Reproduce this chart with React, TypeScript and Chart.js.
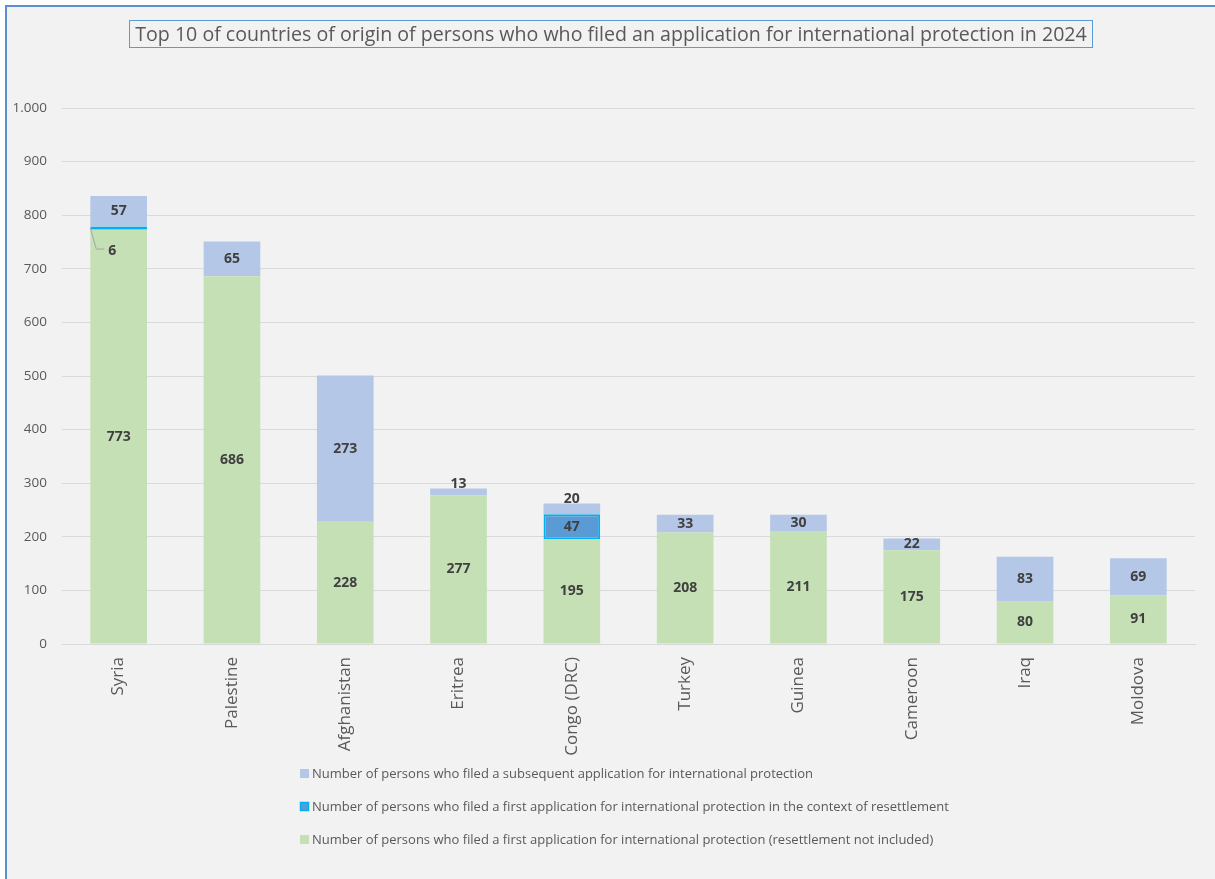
import React, { useEffect, useRef } from "react";
import { Chart, registerables } from "chart.js";

Chart.register(...registerables);

const categories = ["Syria", "Palestine", "Afghanistan", "Eritrea", "Congo (DRC)", "Turkey", "Guinea", "Cameroon", "Iraq", "Moldova"];
const firstApplication = [773, 686, 228, 277, 195, 208, 211, 175, 80, 91];
const resettlement = [6, 0, 0, 0, 47, 0, 0, 0, 0, 0];
const subsequent = [57, 65, 273, 13, 20, 33, 30, 22, 83, 69];

const seriesNames = [
  "Number of persons who filed a first application for international protection (resettlement not included)",
  "Number of persons who filed a first application for international protection in the context of resettlement",
  "Number of persons who filed a subsequent application for international protection",
];

const GREEN = "#c5e0b4";
const MID = "#5b9bd5";
const MID_BORDER = "#00b0f0";
const LIGHT = "#b4c7e7";
const TEXT = "#595959";
const LABEL = "#404040";
const FONT = "'Open Sans', 'Noto Sans', sans-serif";

const labelPlugin = {
  id: "segLabels",
  afterDatasetsDraw(chart: any) {
    const ctx = chart.ctx;
    ctx.save();
    ctx.font = `bold 14px ${FONT}`;
    ctx.fillStyle = LABEL;
    ctx.textAlign = "center";
    ctx.textBaseline = "middle";
    chart.data.datasets.forEach((ds: any, di: number) => {
      const meta = chart.getDatasetMeta(di);
      meta.data.forEach((el: any, i: number) => {
        const v = ds.data[i];
        if (v == null || v === 0) return;
        const top = Math.min(el.y, el.base);
        const h = Math.abs(el.base - el.y);
        const left = el.x - el.width / 2;
        if (h < 5) {
          const yc = top + h / 2;
          ctx.strokeStyle = "#a6a6a6";
          ctx.lineWidth = 1;
          ctx.beginPath();
          ctx.moveTo(left, yc);
          ctx.lineTo(left + 6, yc + 21);
          ctx.lineTo(left + 14, yc + 21);
          ctx.stroke();
          ctx.fillText(String(v), left + 22, yc + 23);
        } else if (h < 11) {
          ctx.fillText(String(v), el.x, top - 5);
        } else {
          ctx.fillText(String(v), el.x, top + h / 2);
        }
      });
    });
    ctx.restore();
  },
};

const legendPlugin = {
  id: "customLegend",
  afterDraw(chart: any) {
    const ctx = chart.ctx;
    ctx.save();
    ctx.font = `13px ${FONT}`;
    const target = 501;
    const measured = ctx.measureText(seriesNames[2]).width;
    const sx = target / measured;
    const items = [
      { text: seriesNames[2], fill: LIGHT, stroke: null as string | null },
      { text: seriesNames[1], fill: MID, stroke: MID_BORDER },
      { text: seriesNames[0], fill: GREEN, stroke: null as string | null },
    ];
    const ys = [774, 807, 840];
    items.forEach((it, k) => {
      const y = ys[k];
      ctx.fillStyle = it.fill;
      ctx.fillRect(300, y - 5, 9, 9);
      if (it.stroke) {
        ctx.strokeStyle = it.stroke;
        ctx.lineWidth = 1.5;
        ctx.strokeRect(300.5, y - 4.5, 8, 8);
      }
      ctx.save();
      ctx.translate(312, y);
      ctx.scale(sx, 1);
      ctx.fillStyle = TEXT;
      ctx.textAlign = "left";
      ctx.textBaseline = "middle";
      ctx.fillText(it.text, 0, 0);
      ctx.restore();
    });
    ctx.restore();
  },
};

export default function App() {
  const ref = useRef<HTMLCanvasElement | null>(null);
  useEffect(() => {
    if (!ref.current) return;
    const toNull = (a: number[]) => a.map((v) => (v === 0 ? null : v));
    const chart = new Chart(ref.current, {
      type: "bar",
      data: {
        labels: categories,
        datasets: [
          { label: seriesNames[0], data: firstApplication, backgroundColor: GREEN, borderWidth: 0 },
          { label: seriesNames[1], data: toNull(resettlement) as any, backgroundColor: MID, borderColor: MID_BORDER, borderWidth: 2, borderSkipped: false },
          { label: seriesNames[2], data: subsequent, backgroundColor: LIGHT, borderWidth: 0 },
        ],
      },
      options: {
        animation: false,
        responsive: true,
        maintainAspectRatio: false,
        layout: { padding: { left: 0, top: 108, right: 20, bottom: 0 } },
        datasets: { bar: { barPercentage: 0.5, categoryPercentage: 1.0 } },
        plugins: {
          legend: { display: false },
          title: { display: false },
          tooltip: { enabled: false },
        },
        scales: {
          x: {
            stacked: true,
            grid: { display: false, drawTicks: false },
            border: { display: true, color: "#d9d9d9", width: 1 },
            ticks: {
              color: TEXT,
              font: { family: FONT, size: 17 },
              maxRotation: 90,
              minRotation: 90,
              padding: 13,
            },
            afterFit: (s: any) => {
              s.height = 235;
            },
          },
          y: {
            stacked: true,
            min: 0,
            max: 1000,
            grid: { color: "#d9d9d9", lineWidth: 1, drawTicks: false },
            border: { display: false },
            ticks: {
              stepSize: 100,
              color: TEXT,
              font: { family: FONT, size: 13.5 },
              padding: 15,
              callback: (v: any) => Number(v).toLocaleString("de-DE"),
            },
            afterFit: (s: any) => {
              s.width = 62;
            },
          },
        },
      },
      plugins: [labelPlugin, legendPlugin],
    });
    return () => chart.destroy();
  }, []);

  return (
    <div style={{ position: "fixed", left: 0, top: 0, width: 1215, height: 879, background: "#ffffff", overflow: "hidden" }}>
      <div
        style={{
          position: "absolute",
          left: 5,
          top: 5,
          width: 1230,
          height: 900,
          background: "#f2f2f2",
          border: "2px solid #5a8fd0",
        }}
      />
      <div
        style={{
          position: "absolute",
          left: 129,
          top: 20,
          width: 962,
          height: 26,
          border: "1.5px solid #5b9bd5",
          color: TEXT,
          fontFamily: FONT,
          fontSize: 19.6,
          lineHeight: "26px",
          textAlign: "center",
          whiteSpace: "nowrap",
          zIndex: 2,
        }}
      >
        Top 10 of countries of origin of persons who who filed an application for international protection in 2024
      </div>
      <div style={{ position: "absolute", left: 0, top: 0, width: 1215, height: 879, zIndex: 1 }}>
        <canvas ref={ref} />
      </div>
    </div>
  );
}
